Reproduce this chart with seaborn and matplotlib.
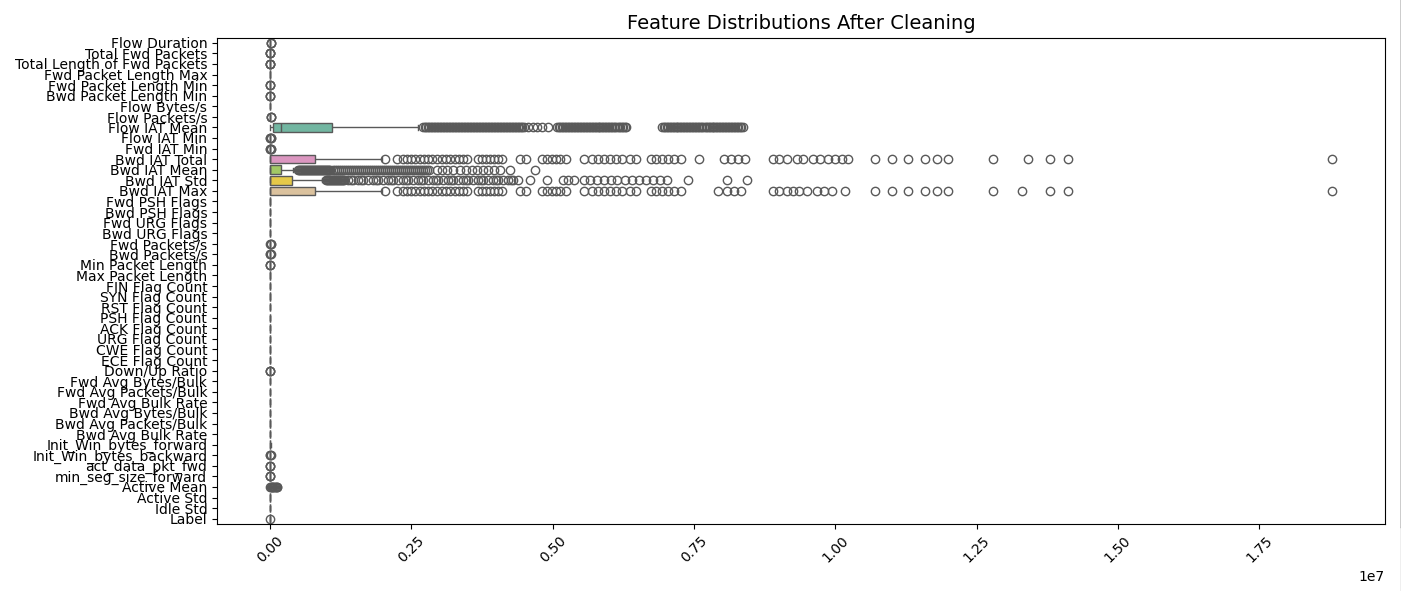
import numpy as np
import pandas as pd
import matplotlib
matplotlib.use("Agg")
import matplotlib.pyplot as plt
import seaborn as sns
from matplotlib.lines import Line2D

features = [
    "Flow Duration", "Total Fwd Packets", "Total Length of Fwd Packets",
    "Fwd Packet Length Max", "Fwd Packet Length Min", "Bwd Packet Length Min",
    "Flow Bytes/s", "Flow Packets/s", "Flow IAT Mean", "Flow IAT Min",
    "Fwd IAT Min", "Bwd IAT Total", "Bwd IAT Mean", "Bwd IAT Std", "Bwd IAT Max",
    "Fwd PSH Flags", "Bwd PSH Flags", "Fwd URG Flags", "Bwd URG Flags",
    "Fwd Packets/s", "Bwd Packets/s", "Min Packet Length", "Max Packet Length",
    "FIN Flag Count", "SYN Flag Count", "RST Flag Count", "PSH Flag Count",
    "ACK Flag Count", "URG Flag Count", "CWE Flag Count", "ECE Flag Count",
    "Down/Up Ratio", "Fwd Avg Bytes/Bulk", "Fwd Avg Packets/Bulk",
    "Fwd Avg Bulk Rate", "Bwd Avg Bytes/Bulk", "Bwd Avg Packets/Bulk",
    "Bwd Avg Bulk Rate", "Init_Win_bytes_forward", "Init_Win_bytes_backward",
    "act_data_pkt_fwd", "min_seg_size_forward", "Active Mean", "Active Std",
    "Idle Std", "Label",
]

# per-feature summary values (min, Q1, median, Q3, upper whisker end)
box_low = [1, 1, 0, 0, 0, 0, 0, 0, 3, 0,
           0, 0, 0, 0, 0, 0, 0, 0, 0, 0,
           0, 0, 0, 0, 0, 0, 0, 0, 0, 0,
           0, 0, 0, 0, 0, 0, 0, 0, 0, 0,
           0, 20, 0, 0, 0, 0]
box_q1 = [40, 1, 0, 0, 0, 0, 0, 20, 53000, 1,
          0, 0, 0, 0, 0, 0, 0, 0, 0, 10,
          5, 0, 0, 0, 0, 0, 0, 0, 0, 0,
          0, 0, 0, 0, 0, 0, 0, 0, 0, 0,
          0, 20, 0, 0, 0, 0]
box_med = [120, 2, 12, 6, 0, 0, 50, 150, 195000, 3,
           1, 0, 0, 0, 0, 0, 0, 0, 0, 80,
           40, 0, 6, 0, 0, 0, 0, 1, 0, 0,
           0, 1, 0, 0, 0, 0, 0, 0, 250, 0,
           1, 20, 0, 0, 0, 0]
box_q3 = [2000, 3, 40, 20, 6, 6, 400, 2000, 1100000, 50,
          30, 800000, 190000, 390000, 800000, 0, 0, 0, 0, 1000,
          700, 6, 40, 0, 0, 0, 1, 1, 0, 0,
          0, 1, 0, 0, 0, 0, 0, 0, 4000, 230,
          2, 32, 0, 0, 0, 0]
box_high = [4900, 6, 100, 50, 15, 15, 1000, 4900, 2620000, 120,
            70, 1980000, 410000, 920000, 1980000, 0, 0, 0, 0, 2400,
            1700, 15, 100, 0, 0, 0, 1, 1, 0, 0,
            0, 1, 0, 0, 0, 0, 0, 0, 10000, 500,
            5, 32, 0, 0, 0, 0]
block_counts = [400, 400, 400, 600, 100]

# outliers (values in millions for the long-tailed IAT features)
flow_iat_mean_out_M = [
    2.707, 2.733, 2.760, 2.787, 2.813, 2.840, 2.866, 2.893, 2.919, 2.946,
    2.972, 2.999, 3.025, 3.052, 3.078, 3.105, 3.131, 3.158, 3.184, 3.211,
    3.237, 3.264, 3.290, 3.317, 3.343, 3.370, 3.396, 3.423, 3.450, 3.476,
    3.503, 3.529, 3.556, 3.582, 3.609, 3.635, 3.662, 3.689, 3.715, 3.742,
    3.768, 3.795, 3.821, 3.848, 3.874, 3.901, 3.927, 3.954, 3.980, 4.007,
    4.033, 4.060, 4.086, 4.113, 4.139, 4.166, 4.193, 4.219, 4.246, 4.272,
    4.299, 4.325, 4.352, 4.378, 4.405, 4.431, 4.458, 4.485,
    4.564, 4.652, 4.723, 4.812, 4.918,
    5.077, 5.104, 5.130, 5.157, 5.183, 5.210, 5.236, 5.263, 5.289, 5.316,
    5.342, 5.369, 5.395, 5.422, 5.449, 5.475, 5.502, 5.528, 5.555, 5.581,
    5.608, 5.634, 5.661, 5.687, 5.714, 5.740, 5.767, 5.793, 5.820, 5.846,
    5.873, 5.899, 5.926, 5.952, 5.979, 6.005, 6.032, 6.058, 6.085, 6.111,
    6.138, 6.165, 6.192, 6.218, 6.245, 6.271, 6.298,
    6.934, 6.961, 6.988, 7.014, 7.041, 7.067, 7.094, 7.120, 7.147, 7.173,
    7.200, 7.226, 7.253, 7.279, 7.306, 7.332, 7.359, 7.385, 7.412, 7.438,
    7.465, 7.491, 7.518, 7.544, 7.571, 7.597, 7.624, 7.650, 7.677, 7.704,
    7.731, 7.757, 7.784, 7.810, 7.837, 7.863, 7.890, 7.916, 7.943, 7.969,
    7.996, 8.022, 8.049, 8.075, 8.102, 8.128, 8.155, 8.181, 8.208, 8.234,
    8.261, 8.287, 8.314, 8.340, 8.367,
]
bwd_iat_total_out_M = [
    2.034, 2.247, 2.353, 2.424, 2.494, 2.565, 2.654, 2.724, 2.795, 2.866,
    2.954, 3.043, 3.113, 3.184, 3.273, 3.343, 3.414, 3.485, 3.680, 3.750,
    3.821, 3.892, 3.963, 4.033, 4.104, 4.423, 4.529, 4.812, 4.900, 4.989,
    5.059, 5.130, 5.236, 5.555, 5.696, 5.802, 5.908, 6.015, 6.121, 6.227,
    6.368, 6.475, 6.740, 6.828, 6.934, 7.041, 7.147, 7.271, 7.589, 8.031,
    8.155, 8.279, 8.403, 8.898, 9.004, 9.146, 9.323, 9.429, 9.606, 9.730,
    9.871, 9.995, 10.119, 10.225, 10.702, 11.003, 11.286, 11.587, 11.799,
    11.994, 12.790, 13.409, 13.798, 14.117, 18.787,
]
bwd_iat_mean_out_M = [
    0.495, 0.513, 0.531, 0.548, 0.566, 0.584, 0.601, 0.619, 0.637, 0.655,
    0.672, 0.690, 0.708, 0.725, 0.743, 0.761, 0.778, 0.796, 0.814, 0.831,
    0.849, 0.867, 0.884, 0.902, 0.920, 0.938, 0.955, 0.973, 0.991, 1.008,
    1.026, 1.044, 1.061,
    1.114, 1.150, 1.185, 1.221, 1.256, 1.291, 1.327, 1.362, 1.398, 1.433,
    1.468, 1.504, 1.539, 1.574, 1.610, 1.645, 1.681, 1.716, 1.751, 1.787,
    1.822, 1.857, 1.893, 1.928, 1.964, 1.999, 2.034, 2.070, 2.105, 2.140,
    2.176, 2.211, 2.247, 2.282, 2.317, 2.353, 2.388, 2.424, 2.459, 2.494,
    2.530, 2.565, 2.600, 2.636, 2.671, 2.707, 2.742, 2.777, 2.813,
    2.954, 3.043, 3.131, 3.237, 3.361, 3.467, 3.573, 3.662, 3.768, 3.856,
    3.963, 4.069, 4.246, 4.688,
]
bwd_iat_std_out_M = [
    0.991, 1.008, 1.026, 1.044, 1.061, 1.079, 1.097, 1.114, 1.132, 1.150,
    1.168, 1.185, 1.203, 1.221, 1.238, 1.256, 1.274, 1.291, 1.309,
    1.380, 1.424, 1.468, 1.557, 1.601, 1.645, 1.734, 1.822, 1.866, 1.911,
    1.999, 2.087, 2.132, 2.176, 2.264, 2.353, 2.397, 2.441, 2.530, 2.618,
    2.662, 2.707, 2.795, 2.883, 2.928, 2.972, 3.060, 3.149, 3.193, 3.237,
    3.326, 3.414, 3.458, 3.503, 3.591, 3.680, 3.724, 3.768, 3.856, 3.945,
    3.989, 4.033, 4.122, 4.210, 4.254, 4.299, 4.387, 4.599, 4.900,
    5.183, 5.272, 5.378, 5.555, 5.661, 5.785, 5.908, 6.032, 6.138, 6.280,
    6.404, 6.528, 6.651, 6.775, 6.899, 7.023, 7.394, 8.084, 8.438,
]
bwd_iat_max_out_M = [
    2.034, 2.247, 2.353, 2.424, 2.494, 2.565, 2.654, 2.724, 2.795, 2.866,
    2.954, 3.043, 3.113, 3.184, 3.273, 3.343, 3.414, 3.485, 3.680, 3.750,
    3.821, 3.892, 3.963, 4.033, 4.104, 4.423, 4.529, 4.812, 4.900, 4.989,
    5.059, 5.130, 5.236, 5.555, 5.696, 5.802, 5.908, 6.015, 6.121, 6.227,
    6.368, 6.475, 6.740, 6.828, 6.934, 7.041, 7.147, 7.271, 7.925, 8.084,
    8.208, 8.332, 8.898, 9.004, 9.146, 9.252, 9.358, 9.500, 9.677, 9.800,
    9.942, 10.172, 10.702, 11.003, 11.286, 11.587, 11.799, 11.994, 12.790,
    13.303, 13.798, 14.117, 18.787,
]
small_outliers = {
    "Flow Duration": [9000, 16000, 24000],
    "Total Fwd Packets": [9, 14, 22, 48],
    "Total Length of Fwd Packets": [160, 420, 950, 2600],
    "Fwd Packet Length Min": [20, 37, 60],
    "Bwd Packet Length Min": [20, 46, 90],
    "Flow Packets/s": [8000, 14000, 22000],
    "Flow IAT Min": [300, 2000, 12000, 20000],
    "Fwd IAT Min": [150, 900, 8000, 18000],
    "Fwd Packets/s": [4000, 9000, 16000],
    "Bwd Packets/s": [3000, 7000, 12000],
    "Min Packet Length": [20, 37, 60],
    "Down/Up Ratio": [3, 4, 6],
    "Init_Win_bytes_backward": [1000, 4096, 8192],
    "act_data_pkt_fwd": [7, 12, 30],
    "min_seg_size_forward": [0, 52, 60],
    "Active Mean": [3000, 12000, 25000, 40000, 55000, 70000, 85000,
                    100000, 115000, 122000],
    "Label": [1],
}

outliers = dict(small_outliers)
outliers["Flow IAT Mean"] = [v * 1e6 for v in flow_iat_mean_out_M]
outliers["Bwd IAT Total"] = [v * 1e6 for v in bwd_iat_total_out_M]
outliers["Bwd IAT Mean"] = [v * 1e6 for v in bwd_iat_mean_out_M]
outliers["Bwd IAT Std"] = [v * 1e6 for v in bwd_iat_std_out_M]
outliers["Bwd IAT Max"] = [v * 1e6 for v in bwd_iat_max_out_M]

frames = []
for i, f in enumerate(features):
    core = np.repeat([box_low[i], box_q1[i], box_med[i], box_q3[i], box_high[i]],
                     block_counts).astype(float)
    vals = np.concatenate([core, np.asarray(outliers.get(f, []), dtype=float)])
    frames.append(pd.DataFrame({"feature": f, "value": vals}))
df = pd.concat(frames, ignore_index=True)

fig = plt.figure(figsize=(14.01, 5.91), dpi=100)
W, H = 1401, 591
ax = fig.add_axes([217 / W, 1 - 524 / H, (1385 - 217) / W, (524 - 37.5) / H])

sns.boxplot(data=df, x="value", y="feature", hue="feature", order=features,
            hue_order=features, palette="Set2", legend=False, orient="h", ax=ax)
ax.set_title("Feature Distributions After Cleaning", fontsize=14)
ax.set_xlabel("")
ax.set_ylabel("")
plt.setp(ax.get_xticklabels(), rotation=45)

# thin edge artifact at the right border of the picture
fig.add_artist(Line2D([1400.5 / W] * 2, [1 - 527 / H, 1], color="black",
                      lw=1, transform=fig.transFigure))
fig.add_artist(Line2D([1400.5 / W] * 2, [0, 1 - 527 / H], color="#b0b0b0",
                      lw=1, transform=fig.transFigure))

fig.savefig("out.png", dpi=100)
